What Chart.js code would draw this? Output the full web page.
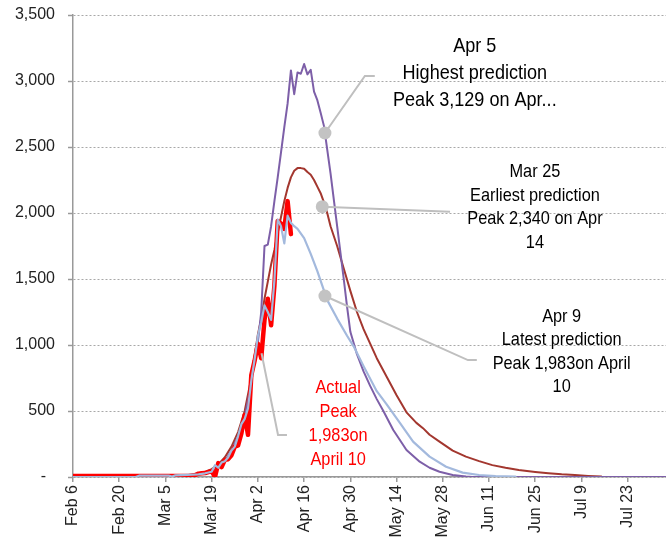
<!DOCTYPE html>
<html>
<head>
<meta charset="utf-8">
<script src="https://cdn.jsdelivr.net/npm/chart.js@4.4.1/dist/chart.umd.min.js"></script>
<style>
  html, body { margin: 0; padding: 0; background: #fff; }
  #wrap { width: 666px; height: 540px; }
</style>
</head>
<body>
<div id="wrap"><canvas id="chart" width="666" height="540"></canvas></div>
<script>
// x = days counted from Feb 6
const tickDays = [0, 14, 28, 42, 56, 70, 84, 98, 112, 126, 140, 154, 168];
const tickLabels = ["Feb 6", "Feb 20", "Mar 5", "Mar 19", "Apr 2", "Apr 16", "Apr 30", "May 14", "May 28", "Jun 11", "Jun 25", "Jul 9", "Jul 23"];
const yTicks = [0, 500, 1000, 1500, 2000, 2500, 3000, 3500];

// actual deaths (red)
const actualDays = [0, 35, 36, 37, 38, 39, 40, 41, 42, 43, 44, 45, 46, 47, 48, 49, 50, 51, 52, 53, 54, 55, 56, 57, 58, 59, 60, 61, 62, 63, 64, 65, 66];
const actualVals = [8, 8, 12, 15, 25, 28, 30, 38, 45, 0, 105, 75, 130, 135, 165, 230, 240, 330, 470, 320, 770, 880, 1010, 900, 1190, 1350, 1150, 1450, 1940, 1920, 1880, 2090, 1840];

// Apr 9 prediction (light blue)
const apr9Days = [0, 19, 20, 29, 30, 31, 38, 40, 42, 43, 44, 45, 46, 47, 48, 49, 50, 51, 52, 53, 54, 55, 56, 57, 58, 59, 60, 61, 62, 63, 64, 65, 66, 67, 68, 70, 72, 74, 77, 80, 83, 85, 88, 92, 95, 99, 103, 108, 113, 118, 123, 128, 134];
const apr9Vals = [0, 0, 10, 10, 4, 12, 20, 28, 40, 90, 70, 110, 120, 150, 200, 230, 310, 400, 440, 520, 730, 890, 1070, 1170, 1300, 1250, 1190, 1490, 1950, 1900, 1770, 1980, 1925, 1900, 1880, 1810, 1690, 1560, 1340, 1200, 1070, 990, 840, 650, 550, 410, 268, 154, 78, 33, 15, 6, 3];

// Apr 5 prediction (purple)
const apr5Days = [36, 40, 42, 44, 46, 48, 50, 52, 54, 55, 56, 57, 58, 59, 60, 61, 62, 63, 64, 65, 66, 67, 68, 69, 70, 71, 72, 73, 74, 75, 76, 78, 80, 81, 82, 83, 84, 86, 88, 90, 92, 94, 97, 101, 105, 108, 111, 115, 119, 121, 180];
const apr5Vals = [15, 28, 40, 70, 120, 200, 310, 450, 720, 880, 1020, 1250, 1750, 1760, 1900, 2090, 2270, 2460, 2650, 2830, 3080, 2900, 3065, 3055, 3129, 3050, 3085, 2920, 2855, 2760, 2660, 2300, 1900, 1700, 1500, 1290, 1100, 930, 800, 690, 590, 500, 356, 205, 116, 70, 40, 15, 3, 0, 0];

// Mar 25 prediction (brown)
const mar25Days = [30, 35, 38, 40, 42, 44, 46, 48, 50, 52, 54, 56, 57, 58, 59, 60, 61, 62, 63, 64, 65, 66, 67, 68, 69, 70, 71, 72, 73, 74, 75, 76, 77, 78, 80, 82, 84, 86, 88, 90, 92, 95, 98, 101, 104, 106, 108, 111, 115, 119, 123, 127, 131, 135, 140, 144, 148, 152, 156, 160];
const mar25Vals = [5, 12, 25, 38, 60, 95, 150, 230, 340, 500, 750, 1080, 1200, 1350, 1480, 1610, 1720, 1850, 1970, 2090, 2190, 2270, 2320, 2340, 2340, 2335, 2310, 2290, 2250, 2200, 2150, 2080, 2000, 1900, 1750, 1580, 1410, 1250, 1120, 1010, 900, 760, 620, 490, 410, 370, 320, 268, 200, 154, 120, 90, 70, 53, 38, 28, 20, 15, 8, 3];

const pts = (xs, ys) => xs.map((d, i) => ({ x: d, y: ys[i] }));

// callouts, positioned in data units (day, value)
const notes = [
  { dot: [76.3, 2606], path: [[88.4, 3038], [91.4, 3038]], at: [121.7, 3262], step: 203, size: 21, color: "#000",
    lines: ["Apr 5", "Highest prediction", "Peak 3,129 on Apr..."] },
  { dot: [75.5, 2048], path: [[114.2, 2010]], at: [139.9, 2313], step: 180, size: 19, color: "#000",
    lines: ["Mar 25", "Earliest prediction", "Peak 2,340 on Apr", "14"] },
  { dot: [76.3, 1371], path: [[119.6, 886], [122.3, 886]], at: [148, 1214], step: 178, size: 19, color: "#000",
    lines: ["Apr 9", "Latest prediction", "Peak 1,983on April", "10"] },
  { start: [57.1, 937], path: [[62.1, 318], [64.8, 318]], at: [80.3, 674], step: 182, size: 19, color: "#ff0000",
    lines: ["Actual", "Peak", "1,983on", "April 10"] }
];

// narrow look: squeeze the sans font horizontally
const squeeze = 0.86;

const notePlugin = {
  id: "notes",
  afterDatasetsDraw(chart) {
    const { ctx } = chart;
    const sx = chart.scales.x, sy = chart.scales.y;
    const px = p => [sx.getPixelForValue(p[0]), sy.getPixelForValue(p[1])];
    ctx.save();
    notes.forEach(n => {
      const first = px(n.dot || n.start);
      ctx.strokeStyle = "#bfbfbf";
      ctx.lineWidth = 2;
      ctx.beginPath();
      ctx.moveTo(first[0], first[1]);
      n.path.forEach(p => { const q = px(p); ctx.lineTo(q[0], q[1]); });
      ctx.stroke();
      if (n.dot) {
        ctx.fillStyle = "#c3c3c3";
        ctx.beginPath();
        ctx.arc(first[0], first[1], 6.5, 0, Math.PI * 2);
        ctx.fill();
      }
      ctx.fillStyle = n.color;
      ctx.font = n.size + "px 'Liberation Sans', Arial, sans-serif";
      ctx.textAlign = "center";
      ctx.textBaseline = "middle";
      n.lines.forEach((t, i) => {
        const q = px([n.at[0], n.at[1] - i * n.step]);
        ctx.save();
        ctx.translate(q[0], q[1]);
        ctx.scale(squeeze, 1);
        ctx.fillText(t, 0, 0);
        ctx.restore();
      });
    });
    ctx.restore();
  }
};

new Chart(document.getElementById("chart"), {
  type: "line",
  data: {
    datasets: [
      { label: "Apr 9", data: pts(apr9Days, apr9Vals), borderColor: "#a3b9dd", borderWidth: 2.2, order: 0 },
      { label: "Actual", data: pts(actualDays, actualVals), borderColor: "#ff0000", borderWidth: 4.5, order: 1 },
      { label: "Apr 5", data: pts(apr5Days, apr5Vals), borderColor: "#7d5fa8", borderWidth: 2, order: 2 },
      { label: "Mar 25", data: pts(mar25Days, mar25Vals), borderColor: "#a3372f", borderWidth: 2, order: 3 }
    ]
  },
  options: {
    responsive: false,
    animation: false,
    devicePixelRatio: 1,
    layout: { padding: { top: 15, right: 0, left: 0, bottom: 0 } },
    elements: { point: { radius: 0 }, line: { tension: 0, borderJoinStyle: "round", borderCapStyle: "round" } },
    plugins: { legend: { display: false }, tooltip: { enabled: false } },
    scales: {
      x: {
        type: "linear", min: 0, max: 179.6,
        afterBuildTicks: s => { s.ticks = tickDays.map(v => ({ value: v })); },
        afterFit: s => { s.height = 63; s.paddingLeft = 0; s.paddingRight = 0; },
        ticks: {
          autoSkip: false, minRotation: 90, maxRotation: 90, padding: 3,
          color: "#222", font: { family: "'Liberation Sans', Arial, sans-serif", size: 16 },
          callback: v => tickLabels[tickDays.indexOf(v)]
        },
        grid: { drawOnChartArea: false, drawTicks: true, tickLength: 5, color: "#999", lineWidth: 1.5 },
        border: { color: "#999", width: 1.5 }
      },
      y: {
        min: 0, max: 3500,
        afterBuildTicks: s => { s.ticks = yTicks.map(v => ({ value: v })); },
        afterFit: s => { s.width = 73; s.paddingTop = 0; s.paddingBottom = 0; },
        ticks: {
          padding: 13, color: "#222", font: { family: "'Liberation Sans', Arial, sans-serif", size: 16 },
          callback: v => v === 0 ? "-  " : v.toLocaleString("en-US")
        },
        grid: { color: "#a8a8a8", lineWidth: 1, tickLength: 5, tickColor: "#999", tickWidth: 1.5, tickBorderDash: [] },
        border: { color: "#999", width: 1.5, dash: [2, 2] }
      }
    }
  },
  plugins: [notePlugin]
});
</script>
</body>
</html>
